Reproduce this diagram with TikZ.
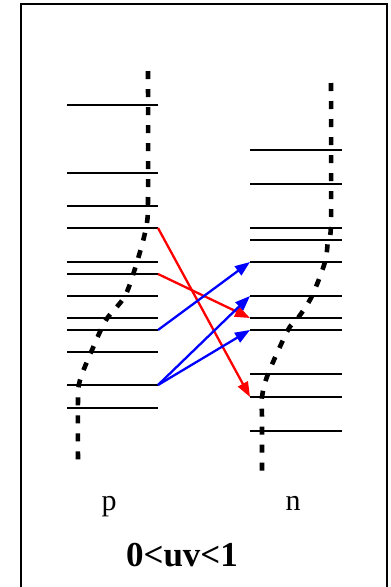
\documentclass[tikz,border=0pt]{standalone}
\usepackage{fontspec}
\setmainfont{Liberation Serif}
\usetikzlibrary{arrows.meta}
\begin{document}
\begin{tikzpicture}[x=1pt,y=-1pt,
	orbit/.style={line width=2.3pt},
	fermi/.style={line width=4.6pt,dash pattern=on 8pt off 10pt},
	jump/.style={line width=2.3pt,-{Triangle[length=15pt,width=11pt]}},
	lab/.style={anchor=base,inner sep=0pt,font=\fontsize{30}{32}\selectfont}]
			\useasboundingbox (0,0) rectangle (391,587);
			\draw[line width=2.2pt] (21,587) -- (21,4) -- (387,4) -- (387,587);
			\foreach \y [count=\i] in {105,173,206,228,262,274,296,318,330,352,385,408}
				\draw[orbit] (67,\y) -- (158,\y) coordinate (p\i);
			\foreach \y [count=\i] in {150,184,228,240,262,296,318,330,374,397,431}
				\draw[orbit] (250,\y) coordinate (n\i) -- (342,\y);
			\draw[fermi] plot[smooth,tension=0.5] coordinates {(148,71) (148,200) (146,228) (137,262) (125,296) (106,320) (92,350) (80,380) (78,400) (78,465)};
			\draw[fermi] plot[smooth,tension=0.5] coordinates {(331,83) (331,222) (328,240) (325,262) (312,296) (298,318) (288,330) (268,374) (262,397) (262,420) (262,476)};
			\draw[jump,red] (p4) -- (n10);
			\draw[jump,red] (p6) -- (n7);
			\draw[jump,blue] (p9) -- (n5);
			\draw[jump,blue] (p11) -- (n6);
			\draw[jump,blue] (p11) -- (n8);
			\node[lab] (plab) at (109,510) {p};
			\node[lab] (nlab) at (293,510) {n};
			\node[lab,font=\fontsize{35}{37}\selectfont\bfseries] (cond) at (182,566) {0<uv<1};
		\end{tikzpicture}
\end{document}
